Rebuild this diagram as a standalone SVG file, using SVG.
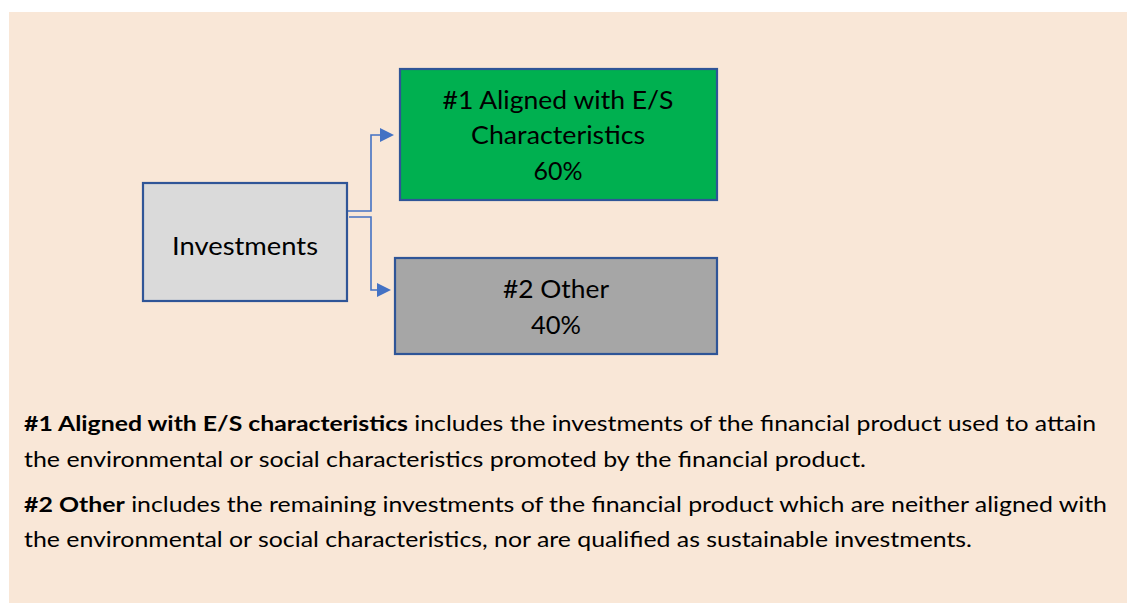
<svg xmlns="http://www.w3.org/2000/svg" width="1127" height="603" viewBox="0 0 1127 603">
<style>
.t{font-family:Lato,"Open Sans","Liberation Sans",sans-serif;fill:#000}
.n{font-size:25px;text-anchor:middle}
.p{font-size:21px}
.b{font-weight:bold}
.box{stroke:#2f5597;stroke-width:2.2}
.c{fill:none;stroke:#4472c4;stroke-width:1.6}
</style>
<rect x="0" y="0" width="1127" height="603" fill="#ffffff"/>
<rect x="9" y="12" width="1118" height="591" fill="#f9e7d7"/>
<g id="connectors">
<path class="c" d="M347,211 H371 V135 H382"/>
<path class="c" d="M349,217 H371 V290 H379"/>
<path d="M380,128 L394,135 L380,142 z" fill="#4472c4"/>
<path d="M377,283 L391,290 L377,297 z" fill="#4472c4"/>
</g>
<g id="investments">
<rect class="box" x="143" y="183" width="204" height="118" fill="#dadada"/>
<text class="t n" x="245" y="255" textLength="146" lengthAdjust="spacingAndGlyphs">Investments</text>
</g>
<g id="aligned">
<rect class="box" x="400" y="69" width="317" height="131" fill="#00b050"/>
<text class="t n" x="558" y="109" textLength="231" lengthAdjust="spacingAndGlyphs">#1 Aligned with E/S</text>
<text class="t n" x="558" y="144" textLength="174" lengthAdjust="spacingAndGlyphs">Characteristics</text>
<text class="t n" x="558" y="180" textLength="49" lengthAdjust="spacingAndGlyphs">60%</text>
</g>
<g id="other">
<rect class="box" x="395" y="258" width="322" height="96" fill="#a6a6a6"/>
<text class="t n" x="556" y="298" textLength="106" lengthAdjust="spacingAndGlyphs">#2 Other</text>
<text class="t n" x="556" y="334" textLength="50" lengthAdjust="spacingAndGlyphs">40%</text>
</g>
<g id="legend">
<text class="t p" x="24" y="431" textLength="1072" lengthAdjust="spacingAndGlyphs"><tspan class="b">#1 Aligned with E/S characteristics</tspan> includes the investments of the financial product used to attain</text>
<text class="t p" x="24" y="467" textLength="842" lengthAdjust="spacingAndGlyphs">the environmental or social characteristics promoted by the financial product.</text>
<text class="t p" x="24" y="512" textLength="1083" lengthAdjust="spacingAndGlyphs"><tspan class="b">#2 Other</tspan> includes the remaining investments of the financial product which are neither aligned with</text>
<text class="t p" x="24" y="547" textLength="948" lengthAdjust="spacingAndGlyphs">the environmental or social characteristics, nor are qualified as sustainable investments.</text>
</g>
</svg>
